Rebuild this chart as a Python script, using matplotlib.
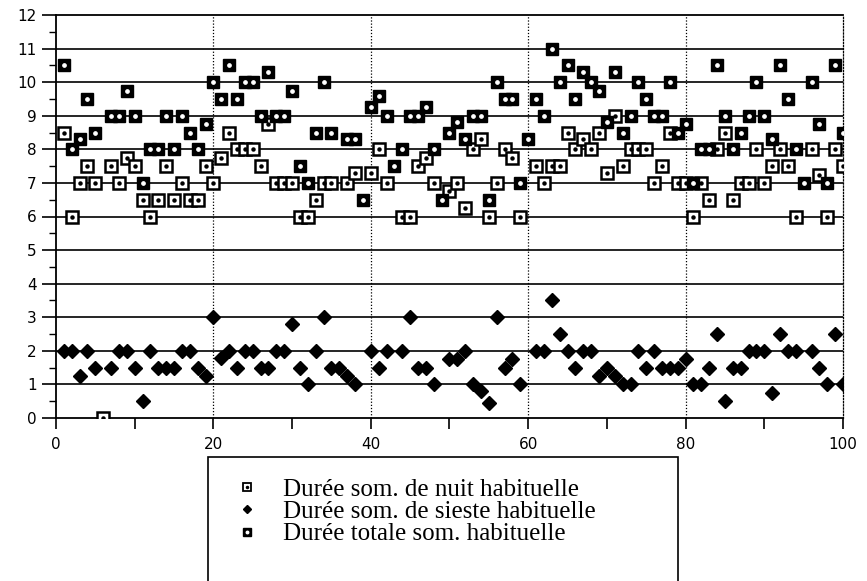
import numpy as np
import matplotlib
matplotlib.use("Agg")
import matplotlib.pyplot as plt
from matplotlib.patches import Rectangle
from matplotlib.legend_handler import HandlerTuple

nan = np.nan

# subject number 1..100
subjects = np.arange(1, 101)

# Durée som. de nuit habituelle (h)
night = [8.5, 6.0, 7.0, 7.5, 7.0, 0.0, 7.5, 7.0, 7.75, 7.5,
         6.5, 6.0, 6.5, 7.5, 6.5, 7.0, 6.5, 6.5, 7.5, 7.0,
         7.75, 8.5, 8.0, 8.0, 8.0, 7.5, 8.75, 7.0, 7.0, 7.0,
         6.0, 6.0, 6.5, 7.0, 7.0, nan, 7.0, 7.3, nan, 7.3,
         8.0, 7.0, nan, 6.0, 6.0, 7.5, 7.75, 7.0, nan, 6.75,
         7.0, 6.25, 8.0, 8.3, 6.0, 7.0, 8.0, 7.75, 6.0, nan,
         7.5, 7.0, 7.5, 7.5, 8.5, 8.0, 8.3, 8.0, 8.5, 7.3,
         9.0, 7.5, 8.0, 8.0, 8.0, 7.0, 7.5, 8.5, 7.0, 7.0,
         6.0, 7.0, 6.5, 8.0, 8.5, 6.5, 7.0, 7.0, 8.0, 7.0,
         7.5, 8.0, 7.5, 6.0, nan, 8.0, 7.25, 6.0, 8.0, 7.5]

# Durée som. de sieste habituelle (h)
siesta = [2, 2, 1.25, 2, 1.5, nan, 1.5, 2, 2, 1.5,
          0.5, 2, 1.5, 1.5, 1.5, 2, 2, 1.5, 1.25, 3,
          1.8, 2, 1.5, 2, 2, 1.5, 1.5, 2, 2, 2.8,
          1.5, 1, 2, 3, 1.5, 1.5, 1.25, 1, nan, 2,
          1.5, 2, nan, 2, 3, 1.5, 1.5, 1, nan, 1.75,
          1.75, 2, 1, 0.8, 0.45, 3, 1.5, 1.75, 1, nan,
          2, 2, 3.5, 2.5, 2, 1.5, 2, 2, 1.25, 1.5,
          1.25, 1, 1, 2, 1.5, 2, 1.5, 1.5, 1.5, 1.75,
          1, 1, 1.5, 2.5, 0.5, 1.5, 1.5, 2, 2, 2,
          0.75, 2.5, 2, 2, nan, 2, 1.5, 1, 2.5, 1]

# Durée totale som. habituelle (h)
total = [10.5, 8.0, 8.3, 9.5, 8.5, nan, 9.0, 9.0, 9.75, 9.0,
         7.0, 8.0, 8.0, 9.0, 8.0, 9.0, 8.5, 8.0, 8.75, 10.0,
         9.5, 10.5, 9.5, 10.0, 10.0, 9.0, 10.3, 9.0, 9.0, 9.75,
         7.5, 7.0, 8.5, 10.0, 8.5, nan, 8.3, 8.3, 6.5, 9.25,
         9.6, 9.0, 7.5, 8.0, 9.0, 9.0, 9.25, 8.0, 6.5, 8.5,
         8.8, 8.3, 9.0, 9.0, 6.5, 10.0, 9.5, 9.5, 7.0, 8.3,
         9.5, 9.0, 11.0, 10.0, 10.5, 9.5, 10.3, 10.0, 9.75, 8.8,
         10.3, 8.5, 9.0, 10.0, 9.5, 9.0, 9.0, 10.0, 8.5, 8.75,
         7.0, 8.0, 8.0, 10.5, 9.0, 8.0, 8.5, 9.0, 10.0, 9.0,
         8.3, 10.5, 9.5, 8.0, 7.0, 10.0, 8.75, 7.0, 10.5, 8.5]

labels = ["Durée som. de nuit habituelle",
          "Durée som. de sieste habituelle",
          "Durée totale som. habituelle"]

fig = plt.figure(figsize=(8.67, 5.81), dpi=100)
ax = fig.add_axes([56/867, 163/581, 787/867, 403/581])
ax.set_xlim(0, 100)
ax.set_ylim(0, 12)

# grid: solid horizontal, dotted vertical
for yv in range(1, 12):
    ax.axhline(yv, color="black", lw=1.2, zorder=1)
for xv in [20, 40, 60, 80]:
    ax.axvline(xv, color="black", lw=0.9, ls=(0, (1, 1.5)), zorder=1)

for s in ["left", "bottom", "top"]:
    ax.spines[s].set_linewidth(1.3)
ax.spines["right"].set_linestyle((0, (1, 1.5)))
ax.spines["right"].set_linewidth(0.9)

# night: open square with a dot
ax.plot(subjects, night, ls="none", marker="s", ms=8.5, mfc="white",
        mec="black", mew=1.8, zorder=3)
ax.plot(subjects, night, ls="none", marker="o", ms=2.2, color="black", zorder=4)
# siesta: diamonds
ax.plot(subjects, siesta, ls="none", marker="D", ms=7.5, color="black", zorder=3)
# total: filled square with white dot
ax.plot(subjects, total, ls="none", marker="s", ms=8.5, color="black", zorder=3)
ax.plot(subjects, total, ls="none", marker="o", ms=2.4, color="white", zorder=4)

ax.set_xticks(range(0, 101, 20))
ax.set_xticks(range(0, 101, 10), minor=True)
ax.set_yticks(range(0, 13))
ax.set_yticks(np.arange(0, 12.5, 0.5), minor=True)
ax.tick_params(axis="y", which="major", length=10, width=1.2, pad=4, labelsize=11)
ax.tick_params(axis="y", which="minor", length=5, width=1.0)
ax.tick_params(axis="x", which="both", length=8, width=1.2, pad=6, labelsize=11)

# legend with open-bottom frame
fig.patches.append(Rectangle((208/867, -0.05), 470/867, (581-457)/581 + 0.05,
                             transform=fig.transFigure, fill=False,
                             edgecolor="black", lw=1.2))
h_n = (plt.Line2D([], [], marker="s", ms=6, mfc="white", mec="black", mew=1.3, ls="none"),
       plt.Line2D([], [], marker="o", ms=1.5, color="black", ls="none"))
h_s = plt.Line2D([], [], marker="D", color="black", ls="none", ms=4.5)
h_t = (plt.Line2D([], [], marker="s", ms=6, color="black", ls="none"),
       plt.Line2D([], [], marker="o", ms=1.8, color="white", ls="none"))
fig.legend([h_n, h_s, h_t], labels, loc="upper left",
           bbox_to_anchor=(234/867, (581-478)/581), frameon=False,
           handler_map={tuple: HandlerTuple(ndivide=1, pad=0)},
           prop={"family": "Liberation Serif", "size": 18},
           labelspacing=0.0, handlelength=1.0, handletextpad=0.95,
           borderaxespad=0, borderpad=0)

fig.savefig("out.png", dpi=100)
